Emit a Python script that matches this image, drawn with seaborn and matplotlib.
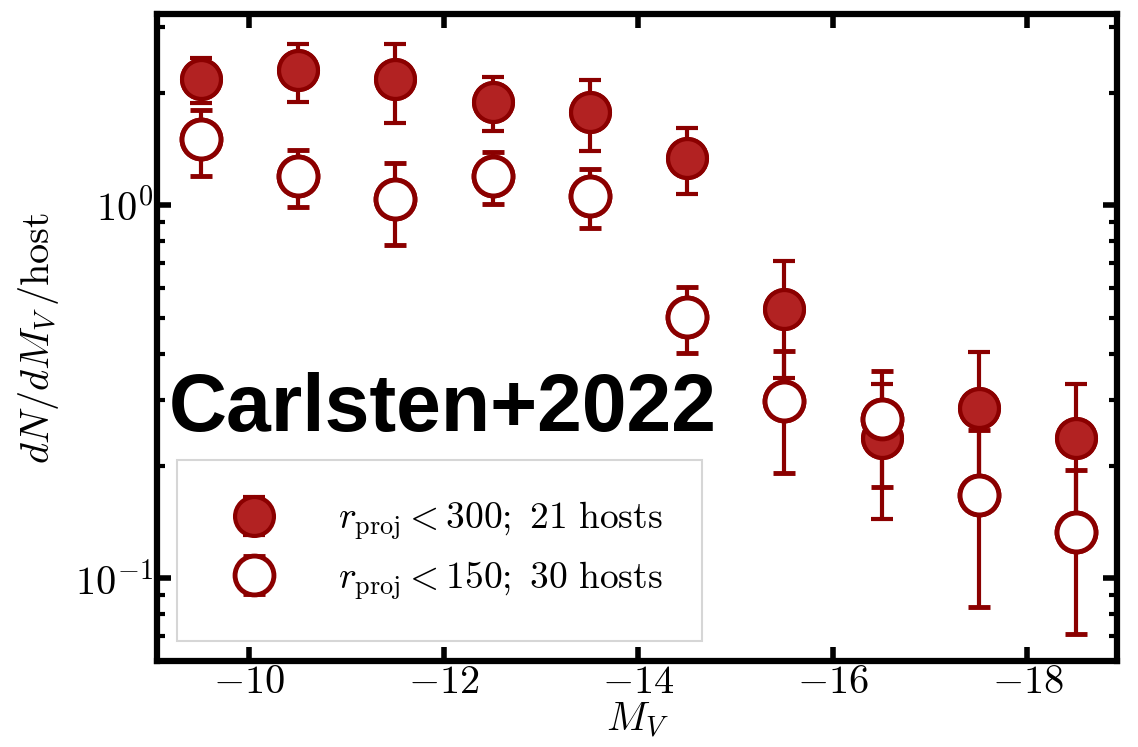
import numpy as np
import pandas as pd
import matplotlib
matplotlib.use('Agg')
import matplotlib.pyplot as plt
import seaborn as sns

# luminosity function bins (M_V bin centres)
mv_bins = [-9.5, -10.5, -11.5, -12.5, -13.5, -14.5, -15.5, -16.5, -17.5, -18.5]

# r_proj < 300 kpc, 21 hosts
lf_300 = [2.18, 2.30, 2.18, 1.89, 1.78, 1.34, 0.527, 0.238, 0.286, 0.238]
err_300 = [0.30, 0.41, 0.52, 0.31, 0.38, 0.27, 0.183, 0.094, 0.117, 0.094]

# r_proj < 150 kpc, 30 hosts
lf_150 = [1.50, 1.20, 1.04, 1.20, 1.06, 0.502, 0.299, 0.268, 0.167, 0.133]
err_150 = [0.30, 0.21, 0.26, 0.19, 0.19, 0.10, 0.107, 0.092, 0.083, 0.062]

label_300 = r'$r_{\rm proj} < 300;\ 21\ {\rm hosts}$'
label_150 = r'$r_{\rm proj} < 150;\ 30\ {\rm hosts}$'

sns.set_style('ticks')
plt.rcParams['font.family'] = ['serif']
plt.rcParams['font.serif'] = ['cmr10', 'DejaVu Serif']
plt.rcParams['mathtext.fontset'] = 'cm'
plt.rcParams['axes.formatter.use_mathtext'] = True
for k in ['text.color', 'axes.labelcolor', 'xtick.color', 'ytick.color', 'axes.edgecolor']:
    plt.rcParams[k] = 'black'

df = pd.DataFrame({
    'MV': mv_bins * 2,
    'dNdMV': lf_300 + lf_150,
    'err': err_300 + err_150,
    'sample': ['300'] * len(mv_bins) + ['150'] * len(mv_bins),
})

fig, ax = plt.subplots(figsize=(11.38, 7.47), dpi=100)
fig.subplots_adjust(left=0.138, right=0.9815, top=0.981, bottom=0.115)

dark = '#8B0000'
fill = '#B22222'
styles = {'300': dict(mfc=fill, label=label_300, mew=3),
          '150': dict(mfc='white', label=label_150, mew=3.5)}

handles = []
for key in ['300', '150']:
    sub = df[df['sample'] == key]
    st = styles[key]
    eb = ax.errorbar(sub['MV'], sub['dNdMV'], yerr=sub['err'], fmt='o', ms=28,
                     mfc=st['mfc'], mec=dark, mew=st['mew'], ecolor=dark,
                     elinewidth=3, capsize=8, capthick=3.5, label=st['label'], zorder=3)
    handles.append(eb)
    sns.scatterplot(data=sub, x='MV', y='dNdMV', ax=ax, s=28 ** 2, color=st['mfc'],
                    edgecolor=dark, linewidth=st['mew'], legend=False, zorder=4)

ax.set_yscale('log')
ax.set_xlim(-9.05, -18.92)
ax.set_ylim(0.06, 3.25)
ax.set_xticks([-10, -12, -14, -16, -18])

ax.set_xlabel(r'$M_V$', fontsize=29, labelpad=-1)
ax.set_ylabel(r'$dN/dM_V\,/{\rm host}$', fontsize=29, labelpad=10)

for s in ax.spines.values():
    s.set_linewidth(4.5)
    s.set_color('black')
ax.tick_params(which='major', direction='in', length=10, width=4, labelsize=29,
               top=True, right=True, pad=3)
ax.tick_params(which='minor', direction='in', length=6, width=3, top=False, right=True)
ax.tick_params(axis='x', which='minor', bottom=False, top=False)

ax.text(0.012, 0.355, 'Carlsten+2022', transform=ax.transAxes, fontsize=58,
        fontweight='bold', family='Liberation Sans', color='black',
        va='baseline', zorder=5)

leg = ax.legend(handles=handles, loc='lower left', bbox_to_anchor=(0.021, 0.031),
                borderaxespad=0, fontsize=27, frameon=True, fancybox=False,
                borderpad=1.05, labelspacing=0.45, handlelength=2.0, handletextpad=1.25)
leg.get_frame().set_edgecolor('#cccccc')
leg.get_frame().set_linewidth(1.5)

fig.savefig('out.png', dpi=100)
